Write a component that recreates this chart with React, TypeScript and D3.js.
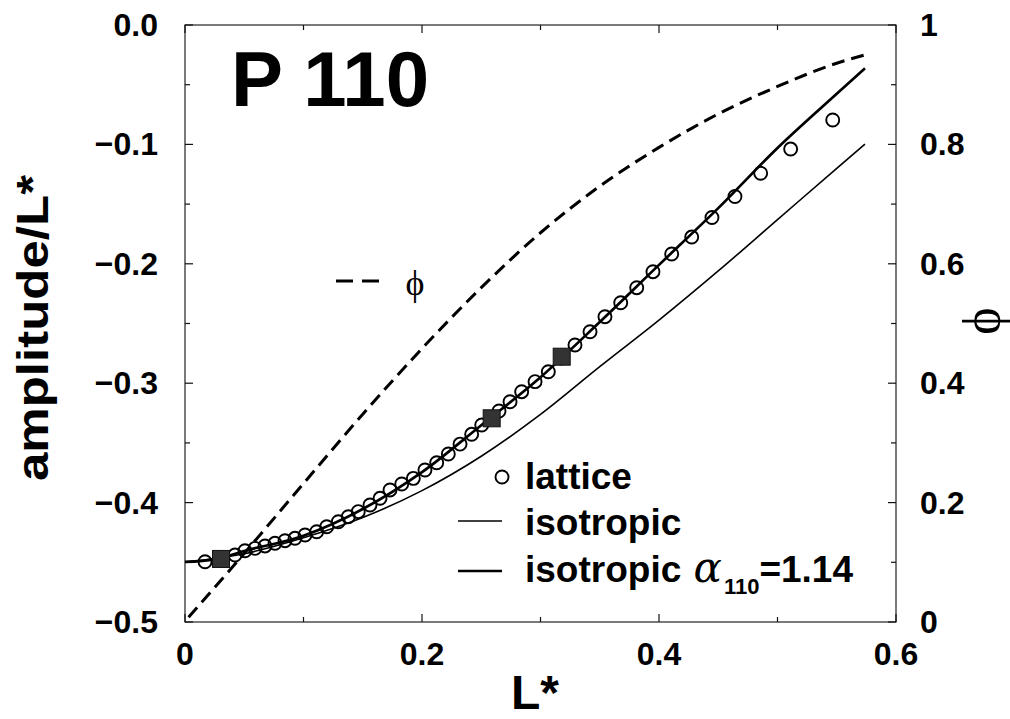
import React from 'react';
import * as d3 from 'd3';

// lattice data (L*, amplitude/L*)
const latticeL = [0.0169, 0.0295, 0.0422, 0.0506, 0.0591, 0.0675, 0.0759, 0.0844, 0.0928, 0.1013, 0.1111, 0.1196, 0.1294, 0.1378, 0.1462, 0.1561, 0.1646, 0.1730, 0.1829, 0.1927, 0.2025, 0.2124, 0.2222, 0.2321, 0.2419, 0.2504, 0.2650, 0.2743, 0.2841, 0.2954, 0.3066, 0.3177, 0.3291, 0.3418, 0.3544, 0.3677, 0.3812, 0.3949, 0.4107, 0.4276, 0.4447, 0.4641, 0.4858, 0.5111, 0.5466];
const latticeAmp = [-0.4495, -0.4464, -0.4439, -0.4403, -0.4383, -0.4363, -0.4341, -0.4319, -0.4299, -0.4271, -0.4244, -0.4202, -0.4160, -0.4118, -0.4076, -0.4020, -0.3964, -0.3894, -0.3844, -0.3797, -0.3727, -0.3666, -0.3593, -0.3510, -0.3428, -0.3350, -0.3233, -0.3155, -0.3071, -0.2987, -0.2904, -0.2789, -0.2680, -0.2569, -0.2443, -0.2326, -0.2200, -0.2066, -0.1918, -0.1776, -0.1612, -0.1436, -0.1242, -0.1039, -0.0796];

// filled squares
const squareL = [0.0304, 0.2588, 0.3179];
const squareAmp = [-0.4472, -0.3294, -0.2778];

// isotropic alpha_110 = 1.14 (thick line)
const fitL = [0, 0.025, 0.05, 0.1, 0.15, 0.2, 0.25, 0.3, 0.35, 0.4, 0.45, 0.5, 0.55, 0.5738];
const fitAmp = [-0.4497, -0.4475, -0.4405, -0.4277, -0.4054, -0.3745, -0.3352, -0.2950, -0.2487, -0.2009, -0.1534, -0.1030, -0.0576, -0.0363];

// isotropic (thin line)
const isoL = [0, 0.05, 0.1, 0.15, 0.2, 0.25, 0.3, 0.35, 0.4, 0.45, 0.5, 0.55, 0.5738];
const isoAmp = [-0.4497, -0.4428, -0.4295, -0.4125, -0.3900, -0.3612, -0.3262, -0.2862, -0.2472, -0.2060, -0.1630, -0.1200, -0.0997];

// phi (dashed, right axis)
const phiL = [0.003, 0.05, 0.1, 0.15, 0.2, 0.25, 0.3, 0.35, 0.4, 0.45, 0.5, 0.55, 0.5738];
const phiVal = [0.008, 0.115, 0.232, 0.348, 0.458, 0.56, 0.652, 0.730, 0.795, 0.851, 0.897, 0.936, 0.95];

const xTicks = [0, 0.2, 0.4, 0.6];
const xTickLabels = ['0', '0.2', '0.4', '0.6'];
const yLeftTicks = [0, -0.1, -0.2, -0.3, -0.4, -0.5];
const yLeftTickLabels = ['0.0', '\u22120.1', '\u22120.2', '\u22120.3', '\u22120.4', '\u22120.5'];
const yRightTicks = [0, 0.2, 0.4, 0.6, 0.8, 1];
const yRightTickLabels = ['0', '0.2', '0.4', '0.6', '0.8', '1'];

const SANS = '"Liberation Sans", Arial, Helvetica, sans-serif';
const SERIF = '"Liberation Serif", "DejaVu Serif", serif';

export default function App() {
  const W = 1010, H = 719;
  const left = 185, right = 896, top = 25, bottom = 622;
  const x = d3.scaleLinear().domain([0, 0.6]).range([left, right]);
  const yL = d3.scaleLinear().domain([-0.5, 0]).range([bottom, top]);
  const yR = d3.scaleLinear().domain([0, 1]).range([bottom, top]);

  const fitPath = d3.line<number>().curve(d3.curveMonotoneX).x((_, i) => x(fitL[i])).y((d) => yL(d))(fitAmp) || '';
  const isoPath = d3.line<number>().curve(d3.curveMonotoneX).x((_, i) => x(isoL[i])).y((d) => yL(d))(isoAmp) || '';
  const phiPath = d3.line<number>().curve(d3.curveMonotoneX).x((_, i) => x(phiL[i])).y((d) => yR(d))(phiVal) || '';

  const xMinor = d3.range(0, 7).map((i) => i * 0.1);
  const yLMinor = d3.range(0, 11).map((i) => -0.5 + i * 0.05);
  const yRMinor = d3.range(0, 11).map((i) => i * 0.1);

  const tickStroke = '#111';
  return (
    <svg width={W} height={H} style={{ position: 'absolute', left: 0, top: 0, background: '#fff' }}>
      <rect x={left} y={top} width={right - left} height={bottom - top} fill="none" stroke="#222" strokeWidth={1.2} />
      {xMinor.map((t, i) => {
        const len = i % 2 === 0 ? 8 : 5;
        return (
          <g key={'xt' + i}>
            <line x1={x(t)} x2={x(t)} y1={bottom} y2={bottom - len} stroke={tickStroke} strokeWidth={1.2} />
            <line x1={x(t)} x2={x(t)} y1={top} y2={top + len} stroke={tickStroke} strokeWidth={1.2} />
          </g>
        );
      })}
      {yLMinor.map((t, i) => {
        const len = i % 2 === 0 ? 8 : 5;
        return <line key={'yl' + i} x1={left} x2={left + len} y1={yL(t)} y2={yL(t)} stroke={tickStroke} strokeWidth={1.2} />;
      })}
      {yRMinor.map((t, i) => {
        const len = i % 2 === 0 ? 8 : 5;
        return <line key={'yr' + i} x1={right} x2={right - len} y1={yR(t)} y2={yR(t)} stroke={tickStroke} strokeWidth={1.2} />;
      })}
      <g fontFamily={SANS} fontWeight="bold" fontSize={32} fill="#000">
        {xTicks.map((t, i) => (
          <text key={'xl' + i} x={x(t)} y={665} textAnchor="middle">{xTickLabels[i]}</text>
        ))}
        {yLeftTicks.map((t, i) => (
          <text key={'yll' + i} x={158} y={yL(t) + 11} textAnchor="end">{yLeftTickLabels[i]}</text>
        ))}
        {yRightTicks.map((t, i) => (
          <text key={'yrl' + i} x={920} y={yR(t) + 11} textAnchor="start">{yRightTickLabels[i]}</text>
        ))}
      </g>
      <text x={535} y={709} textAnchor="middle" fontFamily={SANS} fontWeight="bold" fontSize={48}>L*</text>
      <text transform="translate(48,481) rotate(-90)" x={0} y={0} fontFamily={SANS} fontWeight="bold" fontSize={44} textLength={306} lengthAdjust="spacingAndGlyphs">amplitude/L*</text>
      <text transform="translate(999,321) rotate(-90)" x={0} y={0} textAnchor="middle" fontFamily={SERIF} fontSize={52}>{'\u03D5'}</text>

      <text x={231} y={106} fontFamily={SANS} fontWeight="bold" fontSize={78}>P 110</text>

      <path d={phiPath} fill="none" stroke="#000" strokeWidth={3} strokeDasharray="13,7" />
      <path d={isoPath} fill="none" stroke="#000" strokeWidth={1.6} />
      <path d={fitPath} fill="none" stroke="#000" strokeWidth={2.7} />

      {latticeL.map((l, i) => (
        <circle key={'c' + i} cx={x(l)} cy={yL(latticeAmp[i])} r={6.5} fill="none" stroke="#000" strokeWidth={1.9} />
      ))}
      {squareL.map((l, i) => (
        <rect key={'s' + i} x={x(l) - 8.5} y={yL(squareAmp[i]) - 8.5} width={17} height={17} fill="#333" stroke="#111" strokeWidth={1} />
      ))}

      <line x1={336} x2={353} y1={281} y2={281} stroke="#000" strokeWidth={3} />
      <line x1={362} x2={379} y1={281} y2={281} stroke="#000" strokeWidth={3} />
      <text x={415} y={295} textAnchor="middle" fontFamily={SERIF} fontSize={36}>{'\u03D5'}</text>

      <circle cx={502} cy={477} r={6.5} fill="none" stroke="#000" strokeWidth={1.9} />
      <text x={525} y={489} fontFamily={SANS} fontWeight="bold" fontSize={37}>lattice</text>
      <line x1={458} x2={502} y1={521} y2={521} stroke="#000" strokeWidth={1.6} />
      <text x={525} y={535} fontFamily={SANS} fontWeight="bold" fontSize={37}>isotropic</text>
      <line x1={458} x2={502} y1={571} y2={571} stroke="#000" strokeWidth={2.7} />
      <text x={525} y={582} fontFamily={SANS} fontWeight="bold" fontSize={37}>
        <tspan>isotropic </tspan>
        <tspan dx={2} fontFamily={'"DejaVu Serif", serif'} fontWeight="normal" fontStyle="italic" fontSize={42}>{'\u03B1'}</tspan>
        <tspan dx={2} fontSize={22} dy={12}>110</tspan>
        <tspan dy={-12}>=1.14</tspan>
      </text>
    </svg>
  );
}
